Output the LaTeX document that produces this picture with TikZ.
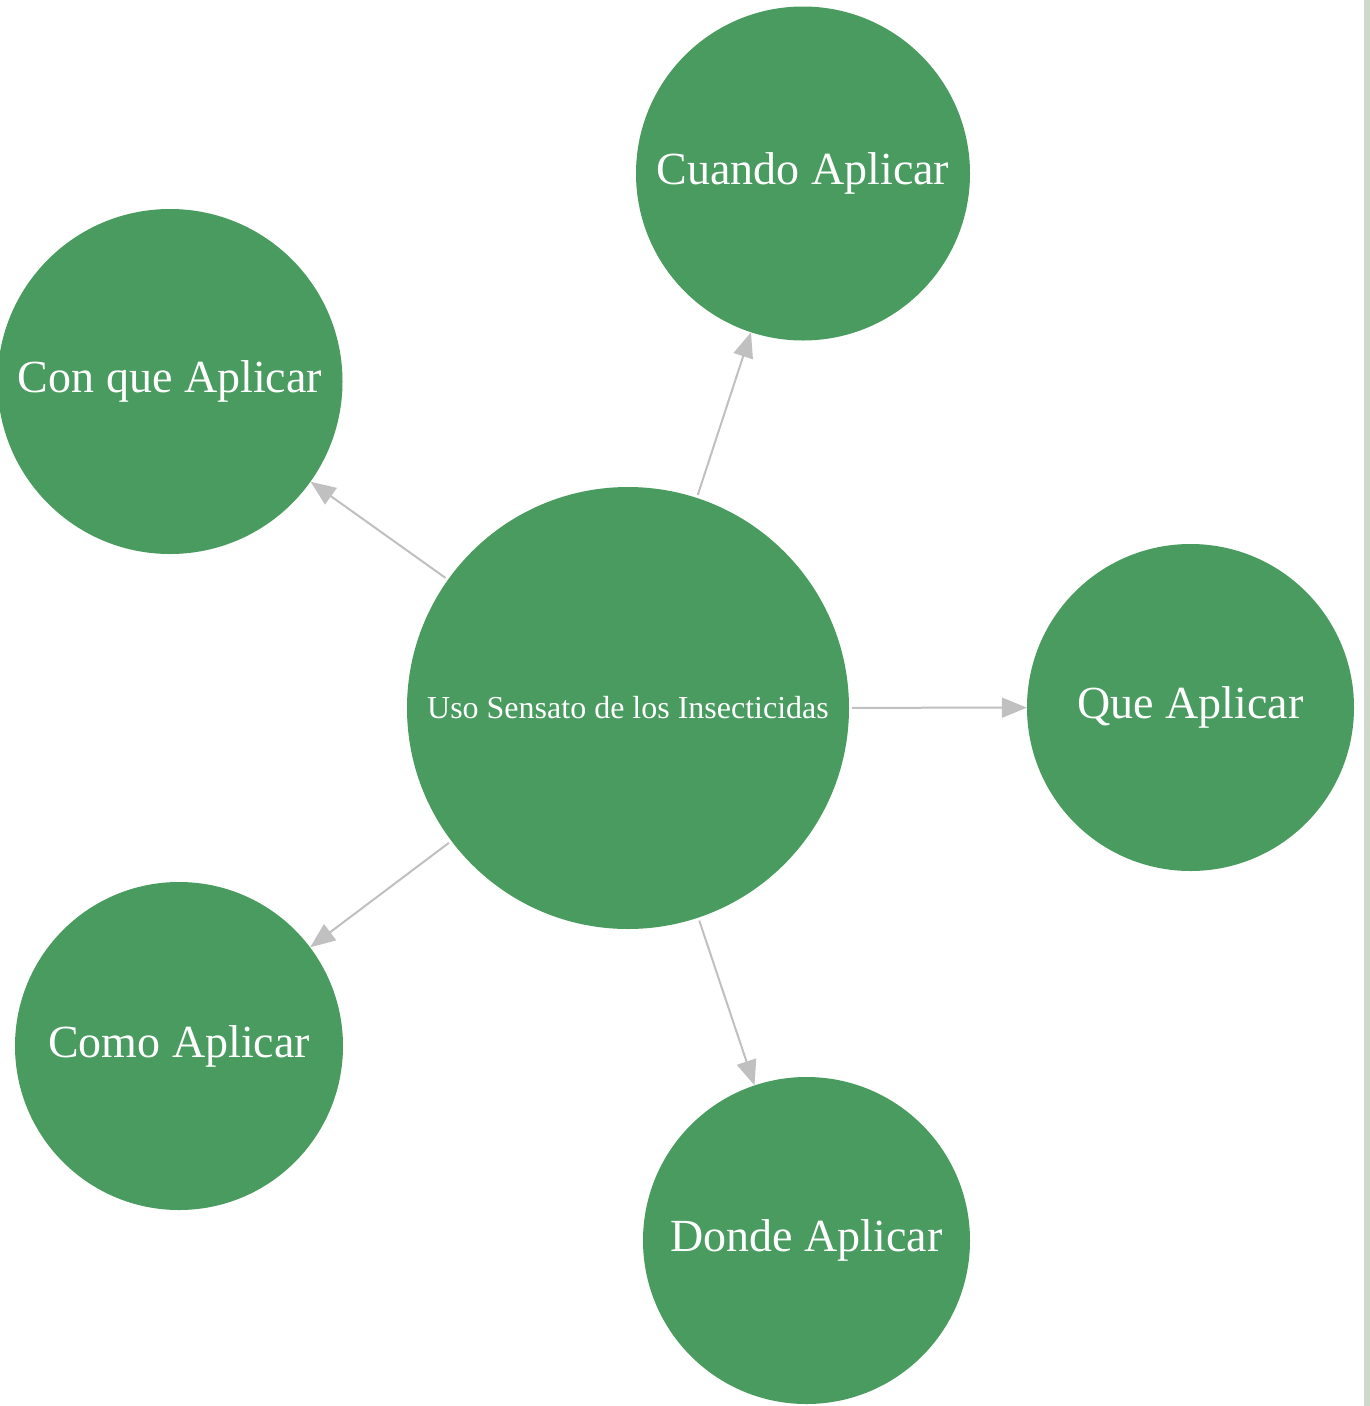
\documentclass[tikz,border=0pt]{standalone}
\usepackage{fontspec}
\setmainfont{Liberation Serif}
\usetikzlibrary{arrows.meta}
\definecolor{nodegreen}{RGB}{73,155,96}
\definecolor{edgegray}{RGB}{192,192,192}
\definecolor{barcol}{RGB}{208,216,204}
\tikzset{
  bubble/.style={circle, fill=nodegreen, inner sep=0pt, text=white, align=center},
  big/.style={font=\fontsize{46}{50}\selectfont},
  small/.style={font=\fontsize{32}{36}\selectfont},
  arr/.style={draw=edgegray, line width=2pt, shorten <=3pt, -{Triangle[length=25pt,width=20pt]}}
}
\begin{document}
\begin{tikzpicture}[x=1pt,y=-1pt]
\useasboundingbox (0,0) rectangle (1370,1406);
\fill[white] (0,0) rectangle (1370,1406);
\fill[barcol] (1364,0) rectangle (1370,1406);
\node[bubble, small, minimum size=442pt] (c) at (628,708) {Uso Sensato de los Insecticidas};
\node[bubble, big, minimum size=334pt] (cuando) at (803,173.5) {Cuando Aplicar};
\node[bubble, big, minimum size=345pt] (conque) at (170,381.5) {Con que Aplicar};
\node[bubble, big, minimum size=327pt] (que) at (1190.5,707.5) {Que Aplicar};
\node[bubble, big, minimum size=328pt] (como) at (179,1046) {Como Aplicar};
\node[bubble, big, minimum size=327pt] (donde) at (806.5,1240.5) {Donde Aplicar};
\draw[arr] (c) -- (cuando);
\draw[arr] (c) -- (conque);
\draw[arr] (c) -- (que);
\draw[arr] (c) -- (como);
\draw[arr] (c) -- (donde);
\end{tikzpicture}
\end{document}
